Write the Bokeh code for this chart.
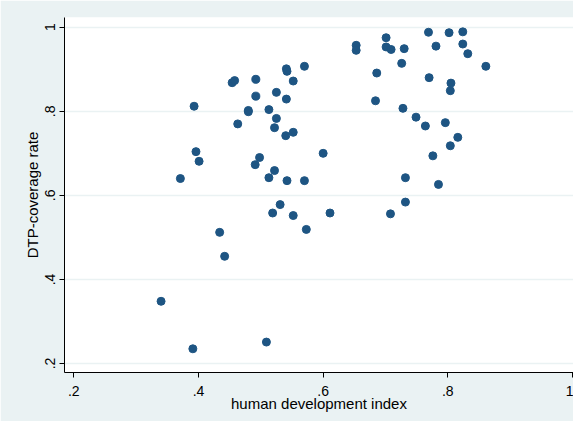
from bokeh.plotting import figure
from bokeh.models import FixedTicker, Range1d
from bokeh.embed import file_html
from bokeh.resources import INLINE

hdi = [0.393, 0.454, 0.458, 0.492, 0.552, 0.541, 0.542, 0.492, 0.525, 0.541,
       0.480, 0.480, 0.513, 0.525, 0.463, 0.522, 0.540, 0.552, 0.396, 0.401,
       0.498, 0.491, 0.371, 0.522, 0.513, 0.542, 0.531, 0.519, 0.552, 0.434,
       0.442, 0.340, 0.391, 0.509, 0.769, 0.802, 0.824, 0.701, 0.653, 0.653,
       0.701, 0.709, 0.730, 0.781, 0.824, 0.832, 0.861, 0.726, 0.686, 0.770,
       0.805, 0.804, 0.684, 0.570, 0.728, 0.749, 0.764, 0.796, 0.816, 0.804,
       0.776, 0.600, 0.732, 0.785, 0.570, 0.732, 0.611, 0.708, 0.573]
dtp = [0.812, 0.868, 0.873, 0.876, 0.872, 0.901, 0.895, 0.836, 0.845, 0.829,
       0.802, 0.799, 0.804, 0.783, 0.770, 0.761, 0.742, 0.750, 0.704, 0.681,
       0.690, 0.673, 0.640, 0.659, 0.642, 0.635, 0.578, 0.558, 0.552, 0.512,
       0.455, 0.348, 0.235, 0.251, 0.988, 0.987, 0.989, 0.975, 0.957, 0.945,
       0.953, 0.947, 0.949, 0.955, 0.960, 0.937, 0.907, 0.914, 0.891, 0.880,
       0.867, 0.849, 0.825, 0.907, 0.807, 0.786, 0.765, 0.773, 0.738, 0.718,
       0.694, 0.700, 0.642, 0.626, 0.635, 0.584, 0.558, 0.556, 0.519]

x_ticks = [0.2, 0.4, 0.6, 0.8, 1.0]
x_labels = [".2", ".4", ".6", ".8", "1"]
y_ticks = [0.2, 0.4, 0.6, 0.8, 1.0]
y_labels = [".2", ".4", ".6", ".8", "1"]

FONT = "Liberation Sans"
BG = "#EAF2F3"

p = figure(width=573, height=421, output_backend="svg", toolbar_location=None,
           x_range=Range1d(0.1851, 1.0016), y_range=Range1d(0.1786, 1.0231),
           min_border_left=64, min_border_right=0, min_border_top=17, min_border_bottom=49)
p.border_fill_color = BG
p.background_fill_color = "white"
p.outline_line_color = None

p.scatter(hdi, dtp, size=8, marker="circle", fill_color="#1E5583", line_color="#1E5583")

p.xgrid.visible = False
p.ygrid.ticker = FixedTicker(ticks=y_ticks)
p.ygrid.grid_line_color = BG
p.ygrid.grid_line_width = 1.5

p.xaxis.ticker = FixedTicker(ticks=x_ticks)
p.xaxis.major_label_overrides = {t: l for t, l in zip(x_ticks, x_labels)}
p.yaxis.ticker = FixedTicker(ticks=y_ticks)
p.yaxis.major_label_overrides = {t: l for t, l in zip(y_ticks, y_labels)}
p.yaxis.major_label_orientation = "vertical"

for ax in (p.xaxis[0], p.yaxis[0]):
    ax.axis_line_color = "black"
    ax.axis_line_width = 1
    ax.major_tick_line_color = "black"
    ax.major_tick_out = 5
    ax.major_tick_in = 0
    ax.minor_tick_line_color = None
    ax.major_label_text_font = FONT
    ax.major_label_text_font_size = "14px"
    ax.major_label_text_color = "black"
    ax.axis_label_text_font = FONT
    ax.axis_label_text_font_size = "15px"
    ax.axis_label_text_font_style = "normal"
    ax.axis_label_text_color = "black"

p.xaxis.axis_label = "human development index"
p.yaxis.axis_label = "DTP-coverage rate"
p.xaxis.major_label_standoff = 8
p.xaxis.axis_label_standoff = -4
p.yaxis.major_label_standoff = 4
p.yaxis.axis_label_standoff = 2

open("out.html", "w").write(file_html(p, INLINE))
